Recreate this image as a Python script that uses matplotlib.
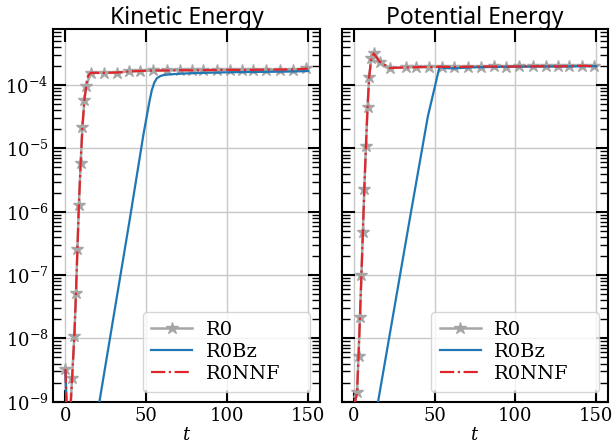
import matplotlib
matplotlib.use("Agg")
import matplotlib.pyplot as plt
import numpy as np

# ---------------- data ----------------
# Kinetic energy
ke_r0_t = [0, 1.2, 2.7, 4.1, 5.5, 6.5, 7.4, 8.3, 9.4, 10.5, 11.7, 12.8, 15.8, 23.6, 31.8, 39.0,
           46.2, 54.4, 62.6, 70.8, 78.0, 85.2, 93.5, 101.7, 108.9, 116.1, 124.3, 132.5, 140.8, 149.0]
ke_r0 = [3.3e-9, 3e-10, 5e-10, 2.4e-9, 1.1e-8, 5.2e-8, 2.6e-7, 1.3e-6, 5.9e-6, 2.2e-5, 5.8e-5, 9.6e-5,
         1.56e-4, 1.56e-4, 1.57e-4, 1.64e-4, 1.68e-4, 1.70e-4, 1.70e-4, 1.72e-4, 1.70e-4, 1.71e-4,
         1.72e-4, 1.73e-4, 1.71e-4, 1.73e-4, 1.74e-4, 1.75e-4, 1.74e-4, 1.83e-4]
ke_r0_marks = [0] + list(range(3, len(ke_r0_t)))

ke_r0nnf_t = [0, 1.2, 2.7, 4.1, 5.5, 6.5, 7.4, 8.3, 9.4, 10.5, 11.7, 12.8, 14.0, 15.8, 23.6, 31.8,
              39.0, 46.2, 54.4, 62.6, 70.8, 78.0, 85.2, 93.5, 101.7, 108.9, 116.1, 124.3, 132.5,
              140.8, 150.0]
ke_r0nnf = [3.3e-9, 3e-10, 5e-10, 2.4e-9, 1.1e-8, 5.2e-8, 2.6e-7, 1.3e-6, 5.9e-6, 2.2e-5, 5.8e-5,
            9.6e-5, 1.42e-4, 1.56e-4, 1.56e-4, 1.58e-4, 1.64e-4, 1.67e-4, 1.70e-4, 1.70e-4, 1.72e-4,
            1.71e-4, 1.72e-4, 1.73e-4, 1.74e-4, 1.73e-4, 1.74e-4, 1.75e-4, 1.76e-4, 1.76e-4, 1.82e-4]

ke_r0bz_t = [0, 1.0, 10, 21.0, 39.7, 48.3, 52.0, 53.4, 55.0, 56.5, 58.5, 60.6, 63.5, 66.8, 75, 85,
             95, 105, 115, 125, 135, 145, 150]
ke_r0bz = [3e-9, 3e-10, 1e-10, 1e-9, 7.4e-7, 1.7e-5, 5.6e-5, 8.3e-5, 1.1e-4, 1.28e-4, 1.38e-4,
           1.44e-4, 1.47e-4, 1.49e-4, 1.53e-4, 1.56e-4, 1.58e-4, 1.60e-4, 1.61e-4, 1.62e-4,
           1.63e-4, 1.65e-4, 1.67e-4]

# Potential energy
pe_r0_t = [0, 2.0, 2.9, 3.8, 4.7, 5.6, 6.5, 7.5, 8.5, 9.5, 10.8, 12.3, 16.0, 22.2, 32.0, 38.6, 46.8,
           54.6, 62.2, 70.5, 78.7, 86.9, 94.1, 102.3, 110.6, 118.8, 126.0, 133.2, 141.4, 148.6]
pe_r0 = [8e-10, 1.4e-9, 5.2e-9, 2.2e-8, 1.0e-7, 4.8e-7, 2.3e-6, 1.1e-5, 4.5e-5, 1.35e-4, 2.64e-4,
         3.16e-4, 2.34e-4, 1.86e-4, 1.90e-4, 1.92e-4, 1.93e-4, 1.95e-4, 1.93e-4, 1.95e-4, 1.96e-4,
         1.97e-4, 1.96e-4, 1.97e-4, 1.98e-4, 1.98e-4, 1.97e-4, 1.99e-4, 2.02e-4, 1.98e-4]
pe_r0_marks = list(range(1, len(pe_r0_t)))

pe_r0nnf_t = pe_r0_t + [150.0]
pe_r0nnf = pe_r0 + [1.99e-4]

pe_r0bz_t = [0, 15.0, 34.5, 45.8, 49.9, 53.0, 56, 61, 66, 72, 80, 90, 100, 110, 120, 130, 140, 150]
pe_r0bz = [1e-10, 1e-9, 7.4e-7, 3.2e-5, 8.9e-5, 1.95e-4, 1.86e-4, 1.84e-4, 1.86e-4, 1.90e-4,
           1.92e-4, 1.94e-4, 1.95e-4, 1.96e-4, 1.97e-4, 1.97e-4, 1.98e-4, 1.99e-4]

titles = ["Kinetic Energy", "Potential Energy"]
labels = ["R0", "R0Bz", "R0NNF"]
xticks = [0, 50, 100, 150]

# ---------------- style ----------------
plt.rcParams['font.family'] = ['DejaVu Serif']
plt.rcParams['mathtext.fontset'] = 'dejavuserif'
plt.rcParams['font.size'] = 13

GRAY = '#a6a6a6'
BLUE = '#1f77b4'
RED = '#e0262b'

fig = plt.figure(figsize=(6.16, 4.46), dpi=100)
ax1 = fig.add_axes([0.0866, 0.0993, 0.433, 0.835])
ax2 = fig.add_axes([0.5547, 0.0993, 0.433, 0.835], sharey=ax1)

datasets = [
    (ke_r0_t, ke_r0, ke_r0_marks, ke_r0bz_t, ke_r0bz, ke_r0nnf_t, ke_r0nnf),
    (pe_r0_t, pe_r0, pe_r0_marks, pe_r0bz_t, pe_r0bz, pe_r0nnf_t, pe_r0nnf),
]

for ax, title, (rt, rv, rm, bt, bv, nt, nv) in zip([ax1, ax2], titles, datasets):
    ax.plot(rt, rv, color=GRAY, lw=1.8, marker='*', markersize=9, markevery=rm,
            label=labels[0], zorder=2)
    ax.plot(bt, bv, color=BLUE, lw=1.6, label=labels[1], zorder=3)
    ax.plot(nt, nv, color=RED, lw=1.6, ls='-.', label=labels[2], zorder=4)
    ax.set_yscale('log')
    ax.set_xlim(-7.5, 157.5)
    ax.set_ylim(1e-9, 7.6e-4)
    ax.set_xticks(xticks)
    ax.grid(True, which='major', color='#c8c8c8', lw=1.0)
    ax.set_axisbelow(True)
    ax.tick_params(which='major', direction='in', length=9, width=1.5, top=True, right=True,
                   labelsize=13)
    ax.tick_params(which='minor', direction='in', length=5.5, width=1.0, top=False, right=True,
                   left=True, bottom=False)
    for sp in ax.spines.values():
        sp.set_linewidth(1.5)
    ax.set_title(title, fontfamily='Noto Sans', fontsize=16.5, pad=4)
    ax.set_xlabel('$t$', fontsize=13, labelpad=1)
    ax.legend(loc='lower left', bbox_to_anchor=(0.335, 0.027, 0.628, 0.21), mode='expand',
              borderaxespad=0, fontsize=14, framealpha=0.8, labelspacing=0.2,
              handlelength=2.1, handletextpad=0.7, borderpad=0.45)

ax1.set_yticks([1e-9, 1e-8, 1e-7, 1e-6, 1e-5, 1e-4])
plt.setp(ax2.get_yticklabels(), visible=False)

fig.savefig('out.png', dpi=100)
